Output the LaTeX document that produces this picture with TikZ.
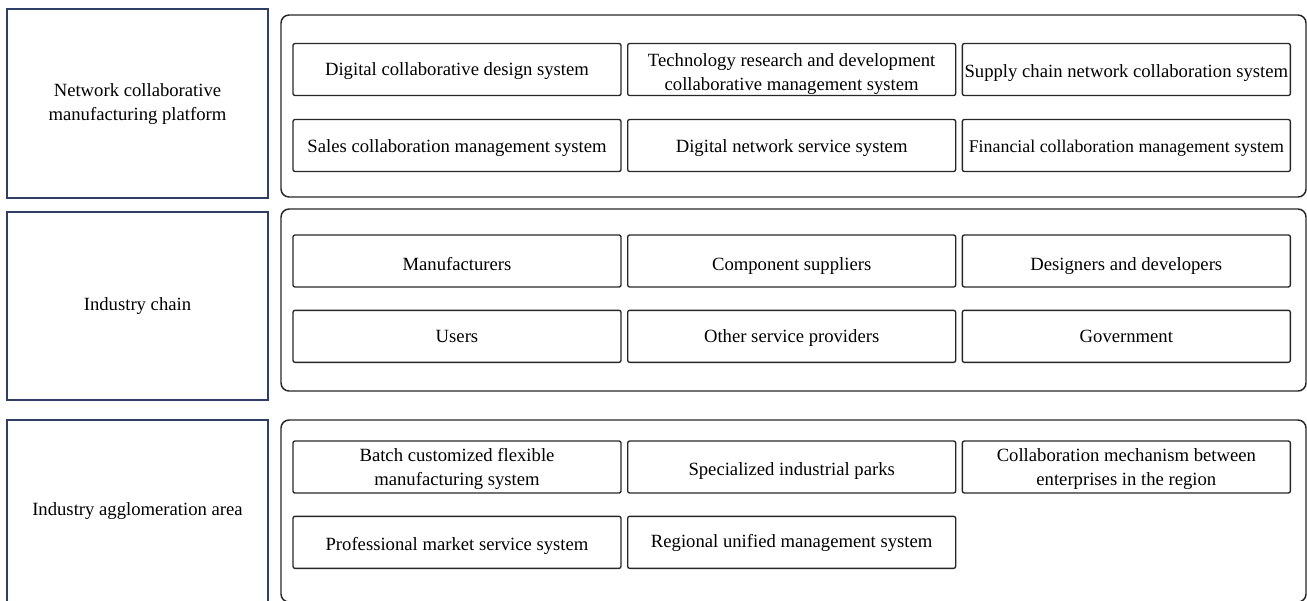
\documentclass[tikz,border=0pt]{standalone}
\usepackage{fontspec}
\setmainfont{Liberation Serif}
\usetikzlibrary{positioning}
\definecolor{navy}{HTML}{2E3E64}
\newcommand{\pair}[2]{\begin{tabular}{@{}c@{}}#1\\#2\end{tabular}}
\tikzset{
    layer/.style={draw=navy, line width=1.1pt, minimum width=195.75pt, align=center, inner sep=0pt},
    panel/.style={draw=black!85, line width=1.1pt, rounded corners=6pt, minimum width=768.75pt, minimum height=136.5pt},
    item/.style={draw=black!85, line width=1pt, rounded corners=1.5pt, minimum width=246pt, minimum height=39pt, inner sep=1pt,
        text height=14pt, text depth=5.4pt},
}

\begin{document}
\begin{tikzpicture}[x=0.75pt, y=-0.75pt, font=\fontsize{14}{18}\selectfont, text=black]
                \clip (0,0) rectangle (1307,600);

                % left column
                \node [layer, minimum height=141.75pt, text height=14pt, text depth=6pt] (net) at (137.5,103.5) {\pair{Network collaborative}{manufacturing platform}};
                \node [layer, minimum height=141pt] (chain) at (137.5,306) {Industry chain};
                \node [layer, minimum height=136.5pt] (area) at (137.5,511) {Industry agglomeration area};

                % right panels
                \node [panel] (pnet) at (793.5,106) {};
                \node [panel] (pchain) at (793.5,300) {};
                \node [panel] (parea) at (793.5,511) {};

                % platform systems
                \node [item] (design) at (457,69.5) {Digital collaborative design system};
                \node [item, right=4pt of design, text depth=1pt] (rnd) {\pair{Technology research and development}{collaborative management system}};
                \node [item, right=4pt of rnd, text height=17pt] (supply) {Supply chain network collaboration system};
                \node [item, below=17pt of design, text height=15.6pt] (sales) {Sales collaboration management system};
                \node [item, right=4pt of sales, text height=15.6pt] (service) {Digital network service system};
                \node [item, right=4pt of service, text height=15.6pt, font=\fontsize{13.4}{18}\selectfont] (finance) {Financial collaboration management system};

                % chain members
                \node [item, text height=20pt] (makers) at (457,261) {Manufacturers};
                \node [item, right=4pt of makers, text height=20pt] (parts) {Component suppliers};
                \node [item, right=4pt of parts, text height=20pt] (designers) {Designers and developers};
                \node [item, below=16.5pt of makers] (users) {Users};
                \node [item, right=4pt of users] (others) {Other service providers};
                \node [item, right=4pt of others] (gov) {Government};

                % agglomeration area
                \node [item, text depth=3.6pt] (batch) at (457,467) {\pair{Batch customized flexible}{manufacturing system}};
                \node [item, right=4pt of batch, text height=18.6pt] (parks) {Specialized industrial parks};
                \node [item, right=4pt of parks, text depth=3.6pt] (mech) {\pair{Collaboration mechanism between}{enterprises in the region}};
                \node [item, below=16.5pt of batch, text height=17pt] (market) {Professional market service system};
                \node [item, right=4pt of market, text height=12.6pt] (regional) {Regional unified management system};
            \end{tikzpicture}
\end{document}
